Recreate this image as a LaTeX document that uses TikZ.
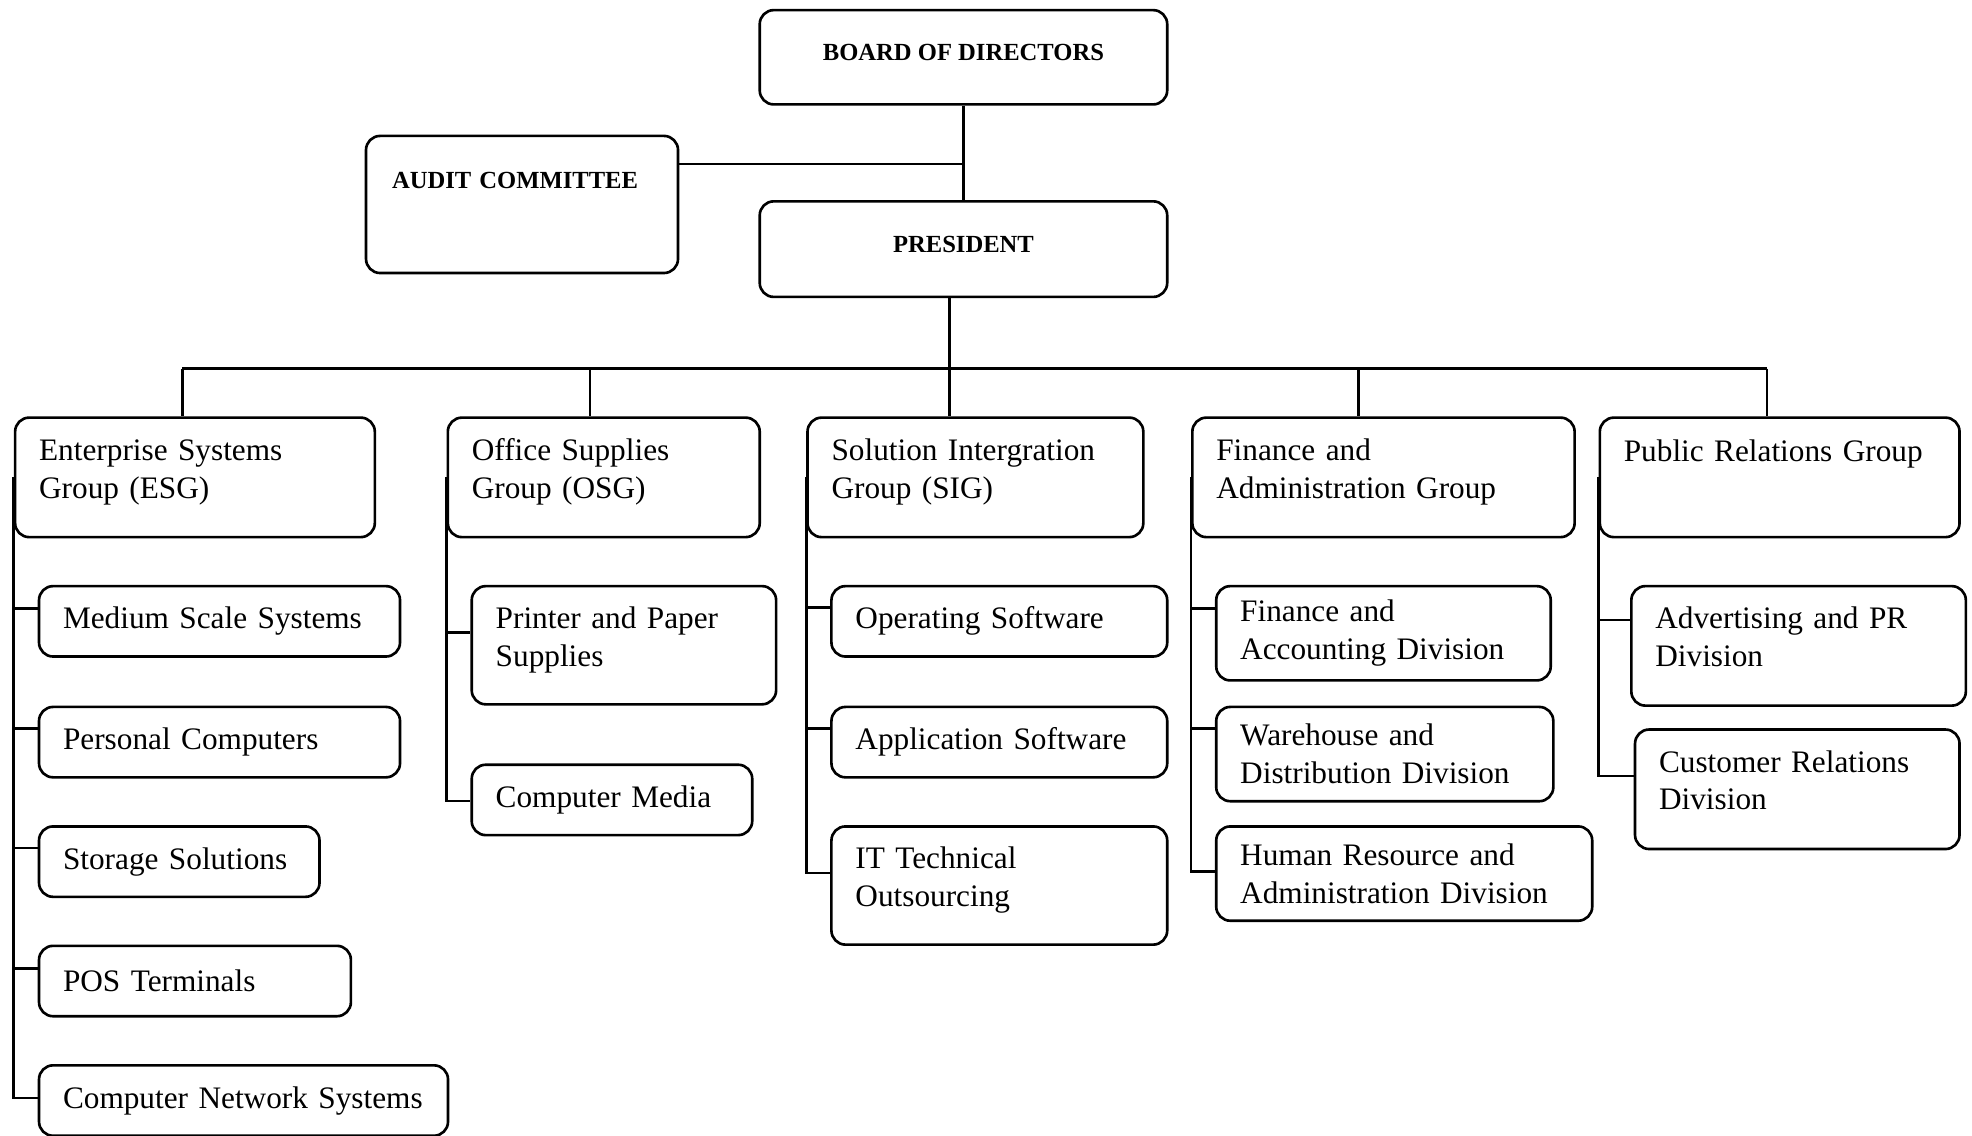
\documentclass[tikz,border=0pt]{standalone}
\usepackage{fontspec}
\setmainfont{Liberation Serif}
\usepackage{tikz}
\usetikzlibrary{calc}
\hyphenpenalty=10000
\exhyphenpenalty=10000

\tikzset{
    unit/.style={draw, rounded corners=4pt, anchor=north west, align=left,
        inner xsep=0.24cm, font=\fontsize{8.9}{10.7}\selectfont},
    lift/.style={text height=6.5pt, text depth=#1},
    head/.style={draw, rounded corners=4pt, anchor=north west,
        font=\bfseries\fontsize{7}{8}\selectfont, text height=5pt, text depth=3.3pt}
}

\begin{document}
\begin{tikzpicture}[line width=0.75pt]
    \useasboundingbox (0, 0) rectangle (19.72, -11.357);
    \node[head, minimum width=4.075cm, minimum height=0.943cm] (board) at (7.584, -0.088) {BOARD OF DIRECTORS};
    \node[head, align=left, text width=2.6cm, inner xsep=0.26cm, minimum height=1.371cm, text depth=14.2pt] (audit) at (3.647, -1.346) {AUDIT COMMITTEE};
    \node[head, minimum width=4.075cm, minimum height=0.956cm] (pres) at (7.584, -2.000) {PRESIDENT};

    \node[unit, lift=16pt, text width=3.117cm, minimum height=1.195cm] (esg) at (0.138, -4.163) {Enterprise Systems\\Group (ESG)};
    \node[unit, lift=16pt, text width=2.639cm, minimum height=1.195cm] (osg) at (4.465, -4.163) {Office Supplies\\Group (OSG)};
    \node[unit, lift=16pt, text width=2.878cm, minimum height=1.195cm] (sig) at (8.062, -4.163) {Solution Intergration\\Group (SIG)};
    \node[unit, lift=16pt, text width=3.343cm, minimum height=1.195cm] (fag) at (11.910, -4.163) {Finance and\\Administration Group};
    \node[unit, lift=15.7pt, text width=3.117cm, minimum height=1.195cm] (prg) at (15.985, -4.163) {Public Relations Group};

    \node[unit, text width=3.13cm, minimum height=0.704cm] (mss) at (0.377, -5.848) {Medium Scale Systems};
    \node[unit, text width=3.13cm, minimum height=0.704cm] (pc) at (0.377, -7.056) {Personal Computers};
    \node[unit, text width=2.325cm, minimum height=0.704cm] (ss) at (0.377, -8.251) {Storage Solutions};
    \node[unit, text width=2.639cm, minimum height=0.704cm] (pos) at (0.377, -9.445) {POS Terminals};
    \node[unit, text width=3.61cm, minimum height=0.704cm] (cns) at (0.377, -10.640) {Computer Network Systems};
    \node[unit, lift=16pt, text width=2.564cm, minimum height=1.182cm] (pps) at (4.704, -5.848) {Printer and Paper\\Supplies};
    \node[unit, text width=2.325cm, minimum height=0.704cm] (med) at (4.704, -7.634) {Computer Media};
    \node[unit, text width=2.878cm, minimum height=0.704cm] (ops) at (8.301, -5.848) {Operating Software};
    \node[unit, text width=2.878cm, minimum height=0.704cm] (aps) at (8.301, -7.056) {Application Software};
    \node[unit, lift=16pt, text width=2.878cm, minimum height=1.182cm] (itt) at (8.301, -8.251) {IT Technical\\Outsourcing};
    \node[unit, text width=2.865cm, minimum height=0.943cm] (fad) at (12.149, -5.848) {Finance and\\Accounting Division};
    \node[unit, text width=2.891cm, minimum height=0.943cm] (wdd) at (12.149, -7.056) {Warehouse and\\Distribution Division};
    \node[unit, text width=3.28cm, minimum height=0.943cm] (hrd) at (12.149, -8.251) {Human Resource and\\Administration Division};
    \node[unit, lift=16.2pt, text width=2.865cm, minimum height=1.195cm] (apr) at (16.300, -5.848) {Advertising and PR\\Division};
    \node[unit, lift=16.2pt, text width=2.765cm, minimum height=1.195cm] (crd) at (16.337, -7.282) {Customer Relations\\Division};

    \coordinate (ac) at ($(board.south)!0.62!(pres.north)$);
    \coordinate (esg-top) at (1.824, -3.685);
    \coordinate (osg-top) at (5.899, -3.685);
    \coordinate (sig-top) at (9.496, -3.685);
    \coordinate (fag-top) at (13.583, -3.685);
    \coordinate (prg-top) at (17.671, -3.685);

    \draw
    (board) -- (pres)
    (audit.east |- ac) -- (ac)
    (pres.south -| sig-top) -- (sig-top)
    (esg-top) -- (prg-top);
    \foreach \g in {esg, osg, sig, fag, prg}
        \draw (\g-top) -- (\g-top |- \g.north);

    \foreach \c/\s in {mss/0.24cm, pc/0.23cm, ss/0.23cm, pos/0.24cm, cns/0.34cm}
        \draw (esg.west) |- ([yshift=-\s]\c.north west);
    \foreach \c/\s in {pps/0.478cm, med/0.377cm}
        \draw (osg.west) |- ([yshift=-\s]\c.north west);
    \foreach \c/\s in {ops/0.226cm, aps/0.226cm, itt/0.478cm}
        \draw (sig.west) |- ([yshift=-\s]\c.north west);
    \foreach \c/\s in {fad/0.239cm, wdd/0.226cm, hrd/0.465cm}
        \draw (fag.west) |- ([yshift=-\s]\c.north west);
    \foreach \c/\s in {apr/0.352cm, crd/0.478cm}
        \draw (prg.west) |- ([yshift=-\s]\c.north west);
\end{tikzpicture}
\end{document}
